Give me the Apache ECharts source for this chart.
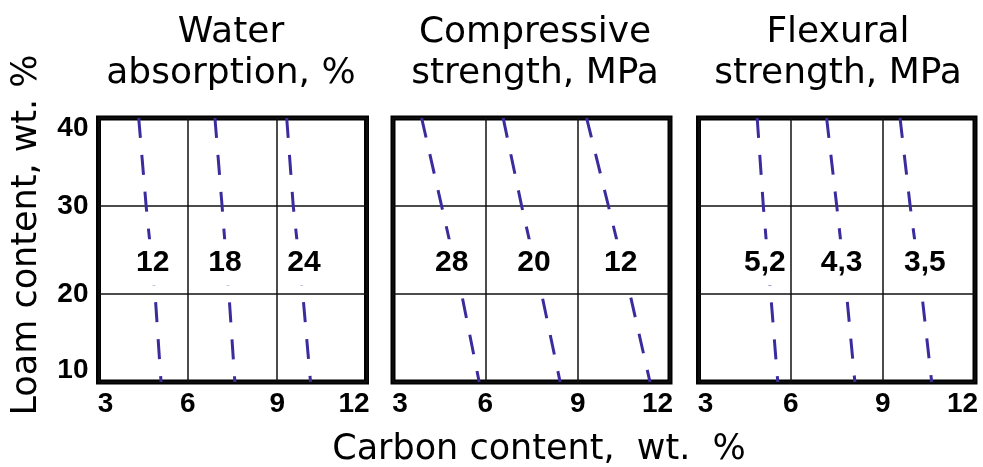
<!DOCTYPE html>
<html>
<head>
<meta charset="utf-8">
<script src="https://cdn.jsdelivr.net/npm/echarts@6/dist/echarts.min.js"></script>
<style>
html,body{margin:0;padding:0;background:#fff;}
#chart{width:983px;height:467px;}
</style>
</head>
<body>
<div id="chart"></div>
<script>
// ---------- DATA ----------
const panelTitles = ['Water\nabsorption, %', 'Compressive\nstrength, MPa', 'Flexural\nstrength, MPa'];
const xAxisTitle = 'Carbon content,  wt.  %';
const yAxisTitle = 'Loam content, wt. %';
const carbonTicks = [3, 6, 9, 12];
const loamTicks = [10, 20, 30, 40];

// loam levels at which the isolines were read
const loamLevels = [40, 30, 20, 10];
// carbon content of each isoline at those loam levels
const water12 = [4.35, 4.60, 4.90, 5.10];
const water18 = [6.91, 7.15, 7.38, 7.58];
const water24 = [9.32, 9.54, 9.86, 10.12];
const comp28 = [3.93, 4.58, 5.23, 5.80];
const comp20 = [6.58, 7.18, 7.83, 8.43];
const comp12 = [9.29, 10.00, 10.70, 11.35];
const flex52 = [4.91, 5.11, 5.35, 5.58];
const flex43 = [7.17, 7.50, 7.82, 8.09];
const flex35 = [9.56, 9.89, 10.27, 10.59];

// isoline labels
const waterLabels = ['12', '18', '24'];
const waterLabelX = [4.82, 7.25, 9.90];
const compLabels = ['28', '20', '12'];
const compLabelX = [4.91, 7.58, 10.40];
const flexLabels = ['5,2', '4,3', '3,5'];
const flexLabelX = [5.16, 7.66, 10.37];
const labelLoam = 23.6;

// ---------- LAYOUT / STYLE ----------
const grids = [
  {left: 98.5, top: 118, width: 268, height: 264},
  {left: 393, top: 118, width: 277, height: 264},
  {left: 698.5, top: 118, width: 276.5, height: 264}
];
const titleCenters = [231, 535, 838];
const lineColor = '#3b2c9e';
const titleFont = 'DejaVu Sans';
const tickFont = 'Liberation Sans';

const panels = [
  {lines: [water12, water18, water24], labels: waterLabels, labelX: waterLabelX},
  {lines: [comp28, comp20, comp12], labels: compLabels, labelX: compLabelX},
  {lines: [flex52, flex43, flex35], labels: flexLabels, labelX: flexLabelX}
];

const tickStyle = {fontFamily: tickFont, fontWeight: 'bold', fontSize: 28, color: '#000', lineHeight: 28};

const chart = echarts.init(document.getElementById('chart'), null, {renderer: 'canvas'});

const option = {
  animation: false,
  backgroundColor: '#fff',
  title: panelTitles.map((t, i) => ({
    text: t,
    left: titleCenters[i],
    top: 12,
    padding: 0,
    textAlign: 'center',
    textStyle: {fontFamily: titleFont, fontSize: 36, fontWeight: 'normal', color: '#000', lineHeight: 41}
  })),
  grid: grids.map(g => Object.assign({
    show: true, borderWidth: 5, borderColor: '#000', backgroundColor: 'transparent',
    containLabel: false, outerBoundsMode: 'none'
  }, g)),
  xAxis: grids.map((g, i) => ({
    type: 'value', gridIndex: i,
    min: carbonTicks[0], max: carbonTicks[carbonTicks.length - 1], interval: 3,
    axisLine: {show: false}, axisTick: {show: false},
    splitLine: {show: true, lineStyle: {color: '#111', width: 1.5}},
    axisLabel: Object.assign({
      margin: 8,
      formatter: v => v === carbonTicks[0] ? '{lo|' + v + '}' : (v === carbonTicks[carbonTicks.length - 1] ? '{hi|' + v + '}' : '{n|' + v + '}'),
      rich: {
        n: Object.assign({}, tickStyle),
        lo: Object.assign({padding: [0, 0, 0, 14]}, tickStyle),
        hi: Object.assign({padding: [0, 25, 0, 0]}, tickStyle)
      }
    }, tickStyle)
  })),
  yAxis: grids.map((g, i) => ({
    type: 'value', gridIndex: i,
    min: loamTicks[0], max: loamTicks[loamTicks.length - 1], interval: 10,
    axisLine: {show: false}, axisTick: {show: false},
    splitLine: {show: true, lineStyle: {color: '#111', width: 1.5}},
    axisLabel: Object.assign({
      show: i === 0,
      margin: 10,
      formatter: v => v === loamTicks[loamTicks.length - 1] ? '{top|' + v + '}' : (v === loamTicks[0] ? '{bot|' + v + '}' : '{n|' + v + '}'),
      rich: {
        n: Object.assign({}, tickStyle),
        top: Object.assign({padding: [20, 0, 0, 0]}, tickStyle),
        bot: Object.assign({padding: [0, 0, 24, 0]}, tickStyle)
      }
    }, tickStyle)
  })),
  series: [],
  graphic: [
    {
      type: 'text', x: 27, y: 235, rotation: Math.PI / 2,
      style: {text: yAxisTitle, fill: '#000', fontSize: 35, fontFamily: titleFont,
        font: '35px "DejaVu Sans"', align: 'center', verticalAlign: 'middle'}
    },
    {
      type: 'text', x: 539, y: 450,
      style: {text: xAxisTitle, fill: '#000', fontSize: 35, fontFamily: titleFont,
        font: '35px "DejaVu Sans"', align: 'center', verticalAlign: 'middle'}
    }
  ]
};

panels.forEach((p, i) => {
  p.lines.forEach(xs => {
    option.series.push({
      type: 'line', xAxisIndex: i, yAxisIndex: i, silent: true,
      showSymbol: false, symbol: 'none', z: 2,
      data: xs.map((x, k) => [x, loamLevels[k]]),
      lineStyle: {color: lineColor, width: 3, type: [20, 17], opacity: 1}
    });
  });
  option.series.push({
    type: 'scatter', xAxisIndex: i, yAxisIndex: i, silent: true, z: 5,
    symbolSize: 0,
    itemStyle: {opacity: 1},
    data: p.labels.map((t, k) => ({name: t, value: [p.labelX[k], labelLoam]})),
    label: {
      show: true, position: 'inside', formatter: '{b}', opacity: 1,
      fontFamily: tickFont, fontWeight: 'bold', fontSize: 30, color: '#000',
      backgroundColor: '#fff', padding: [8, 0]
    }
  });
});

chart.setOption(option);
</script>
</body>
</html>
